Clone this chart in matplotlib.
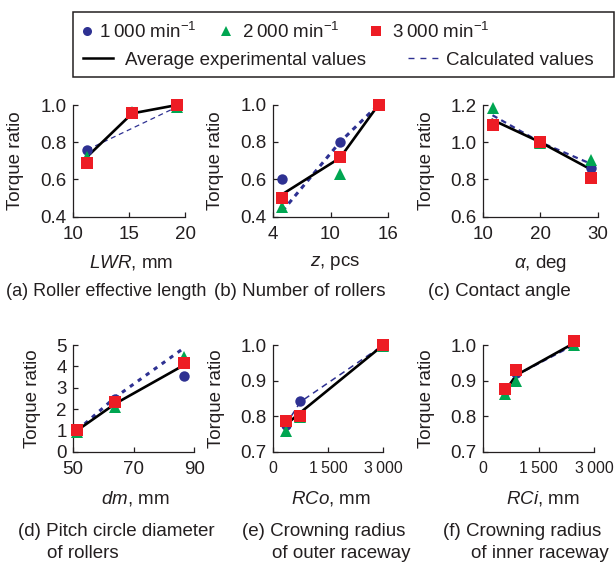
import matplotlib
matplotlib.use("Agg")
import matplotlib.pyplot as plt
from matplotlib.lines import Line2D
from matplotlib.patches import Rectangle
from matplotlib import font_manager

plt.rcParams['font.family'] = ['Liberation Sans', 'DejaVu Sans']
plt.rcParams['mathtext.fontset'] = 'custom'
plt.rcParams['mathtext.rm'] = 'Liberation Sans'
plt.rcParams['mathtext.it'] = 'Liberation Sans:italic'

# ---------------- data ----------------
a_x = [11.3, 15.3, 19.3]
a_1000 = [0.76, 0.955, 1.0]
a_2000 = [0.72, 0.96, 0.99]
a_3000 = [0.69, 0.955, 1.0]
a_avg = [0.723, 0.955, 1.0]
a_calc = [0.76, 0.875, 0.99]

b_x = [5, 11, 15]
b_1000 = [0.60, 0.80, 1.0]
b_2000 = [0.45, 0.63, 0.995]
b_3000 = [0.50, 0.72, 1.0]
b_avg = [0.52, 0.715, 1.0]
b_calc = [0.43, 0.80, 1.0]

c_x = [11.7, 20, 28.7]
c_1000 = [1.09, 1.0, 0.86]
c_2000 = [1.185, 0.995, 0.905]
c_3000 = [1.09, 1.0, 0.81]
c_avg = [1.12, 1.0, 0.855]
c_calc = [1.145, 1.0, 0.885]

d_x = [51.5, 64, 86.5]
d_1000 = [1.0, 2.48, 3.55]
d_2000 = [0.92, 2.08, 4.45]
d_3000 = [1.02, 2.33, 4.17]
d_avg = [1.0, 2.25, 4.05]
d_calc = [1.0, 2.55, 4.85]

e_x = [350, 750, 3000]
e_1000 = [0.775, 0.842, 1.0]
e_2000 = [0.758, 0.797, 0.998]
e_3000 = [0.787, 0.80, 1.0]
e_avg = [0.775, 0.81, 1.0]
e_calc = [0.775, 0.84, 1.0]

f_x = [600, 900, 2450]
f_1000 = [0.87, 0.92, 1.005]
f_2000 = [0.862, 0.90, 1.0]
f_3000 = [0.877, 0.93, 1.01]
f_avg = [0.87, 0.915, 1.005]
f_calc = [0.87, 0.915, 1.0]

series_labels = ['1\u2009000 min$^{-1}$', '2\u2009000 min$^{-1}$', '3\u2009000 min$^{-1}$']
line_labels = ['Average experimental values', 'Calculated values']

xlabels = ['$LWR$, mm', '$z$, pcs', r'$\alpha$, deg', '$dm$, mm', '$RCo$, mm', '$RCi$, mm']
captions = [('(a) Roller effective length', ''), ('(b) Number of rollers', ''),
            ('(c) Contact angle', ''), ('(d) Pitch circle diameter', 'of rollers'),
            ('(e) Crowning radius', 'of outer raceway'), ('(f) Crowning radius', 'of inner raceway')]

xticks = [[10, 15, 20], [4, 10, 16], [10, 20, 30], [50, 70, 90], [0, 1500, 3000], [0, 1500, 3000]]
xticklabels = [['10', '15', '20'], ['4', '10', '16'], ['10', '20', '30'], ['50', '70', '90'],
               ['0', '1\u2009500', '3\u2009000'], ['0', '1\u2009500', '3\u2009000']]
yticks = [[0.4, 0.6, 0.8, 1.0], [0.4, 0.6, 0.8, 1.0], [0.6, 0.8, 1.0, 1.2],
          [0, 1, 2, 3, 4, 5], [0.7, 0.8, 0.9, 1.0], [0.7, 0.8, 0.9, 1.0]]
yticklabels = [['0.4', '0.6', '0.8', '1.0'], ['0.4', '0.6', '0.8', '1.0'], ['0.6', '0.8', '1.0', '1.2'],
               ['0', '1', '2', '3', '4', '5'], ['0.7', '0.8', '0.9', '1.0'], ['0.7', '0.8', '0.9', '1.0']]

panels = [
    (a_x, a_1000, a_2000, a_3000, a_avg, a_calc),
    (b_x, b_1000, b_2000, b_3000, b_avg, b_calc),
    (c_x, c_1000, c_2000, c_3000, c_avg, c_calc),
    (d_x, d_1000, d_2000, d_3000, d_avg, d_calc),
    (e_x, e_1000, e_2000, e_3000, e_avg, e_calc),
    (f_x, f_1000, f_2000, f_3000, f_avg, f_calc),
]

# ---------------- styling / layout ----------------
W, H = 616, 562
BLUE = '#2e3192'
GREEN = '#00a651'
RED = '#ed1c24'
INK = '#231f20'
FS = 13.5

installed = {f.name for f in font_manager.fontManager.ttflist}
if 'Liberation Sans Narrow' in installed:
    narrow = dict(family=['Liberation Sans Narrow', 'DejaVu Sans'], fontsize=FS)
else:
    narrow = dict(fontsize=11.5)

# axes boxes in pixels: left, right, top, bottom
boxes = [(72.7, 185.0, 105.0, 216.7), (272.7, 388.3, 104.5, 216.7), (482.7, 598.0, 105.0, 216.7),
         (72.7, 194.3, 345.0, 451.7), (272.7, 383.3, 345.0, 451.7), (482.7, 594.3, 345.0, 451.7)]
ylabel_x = [15.7, 216.0, 426.7, 32.3, 216.7, 426.7]
xlabel_x = [131, 335, 541, 135, 331, 543]
xlabel_y = [263, 263, 263, 498.3, 498.3, 498.3]
cap_pos = [(6, 292, 13.0), (214, 292, 13.5), (428, 292, 13.5),
           (18, 531.7, 13.5), (241.7, 531.7, 13.5), (442.7, 531.7, 13.5)]
cap2_x = [0, 0, 0, 46.7, 271.7, 471]
cap2_y = 553.3
calc_style = [dict(lw=0.9, dashes=(4, 3)), dict(lw=2.2, dashes=(1.6, 1.6)), dict(lw=1.6, dashes=(2.5, 2)),
              dict(lw=2.2, dashes=(1.4, 1.8)), dict(lw=1.1, dashes=(4, 3)), dict(lw=1.4, dashes=(3, 2))]

fig = plt.figure(figsize=(W / 100, H / 100), dpi=100)

for i, (x, s1, s2, s3, avg, calc) in enumerate(panels):
    l, r, t, b = boxes[i]
    ax = fig.add_axes([l / W, 1 - b / H, (r - l) / W, (b - t) / H])
    ax.plot(x, calc, color=BLUE, **calc_style[i], zorder=2, clip_on=False)
    ax.plot(x, avg, color='black', lw=1.9, zorder=3, clip_on=False)
    ax.plot(x, s1, 'o', color=BLUE, ms=7.5, mew=0, zorder=4, clip_on=False)
    ax.plot(x, s2, '^', color=GREEN, ms=8, mew=0, zorder=5, clip_on=False)
    ax.plot(x, s3, 's', color=RED, ms=8, mew=0, zorder=6, clip_on=False)
    ax.set_xlim(xticks[i][0], xticks[i][-1])
    ax.set_ylim(yticks[i][0], yticks[i][-1])
    ax.set_xticks(xticks[i], xticklabels[i])
    ax.set_yticks(yticks[i], yticklabels[i])
    for sp in ['top', 'right']:
        ax.spines[sp].set_visible(False)
    for sp in ['left', 'bottom']:
        ax.spines[sp].set_color(INK)
        ax.spines[sp].set_linewidth(0.9)
    ax.tick_params(direction='in', length=3.6, width=0.9, color=INK, labelsize=FS, labelcolor=INK)
    ax.tick_params(axis='y', pad=4.3)
    ax.tick_params(axis='x', pad=6.5)
    ax.patch.set_visible(False)
    if i >= 4:
        for lab in ax.get_xticklabels():
            lab.set(**narrow)
    ax.set_ylabel('Torque ratio', fontsize=FS, color=INK, va='center')
    ax.yaxis.set_label_coords((ylabel_x[i] - l) / (r - l), 0.5)
    ax.set_xlabel(xlabels[i], fontsize=FS, color=INK, va='center')
    ax.xaxis.set_label_coords((xlabel_x[i] - l) / (r - l), (b - xlabel_y[i]) / (b - t))
    c1, c2 = captions[i]
    cx, cy, cfs = cap_pos[i]
    fig.text(cx / W, 1 - cy / H, c1, fontsize=cfs, color=INK, ha='left', va='center')
    if c2:
        fig.text(cap2_x[i] / W, 1 - cap2_y / H, c2, fontsize=cfs, color=INK, ha='left', va='center')

# ---------------- legend ----------------
fig.patches.append(Rectangle((72.7 / W, 1 - 77.3 / H), (614.3 - 72.7) / W, (77.3 - 11.7) / H,
                             transform=fig.transFigure, fill=False, lw=1.1, ec=INK))
em = FS * 100 / 72  # px per em
handles = [Line2D([], [], ls='none', marker='o', color=BLUE, ms=6.5, mew=0),
           Line2D([], [], ls='none', marker='^', color=GREEN, ms=7, mew=0),
           Line2D([], [], ls='none', marker='s', color=RED, ms=6.5, mew=0),
           Line2D([], [], color='black', lw=1.8),
           Line2D([], [], color=BLUE, lw=1.0, dashes=(4.3, 4.3))]
labels = series_labels + line_labels
# (handle left px, row center px, handlelength em, handletextpad em)
leg_pos = [(86.7 - em / 2, 31.7, 1.0, (99.3 - 86.7 - em / 2) / em),
           (225.7 - em / 2, 31.7, 1.0, (241.7 - 225.7 - em / 2) / em),
           (375.7 - em / 2, 31.7, 1.0, (391.7 - 375.7 - em / 2) / em),
           (83.0, 60.0, 30.3 / em, (125 - 113.3) / em),
           (408.3, 60.0, 30.0 / em, (446 - 438.3) / em)]
for h, lab, (lx, ly, hl, tp) in zip(handles, labels, leg_pos):
    leg = fig.legend(handles=[h], labels=[lab], loc='center left', bbox_to_anchor=(lx / W, 1 - ly / H),
                     frameon=False, borderpad=0, borderaxespad=0, handlelength=hl, handletextpad=tp,
                     fontsize=FS, numpoints=1, labelcolor=INK)

fig.savefig('out.png', dpi=100)
